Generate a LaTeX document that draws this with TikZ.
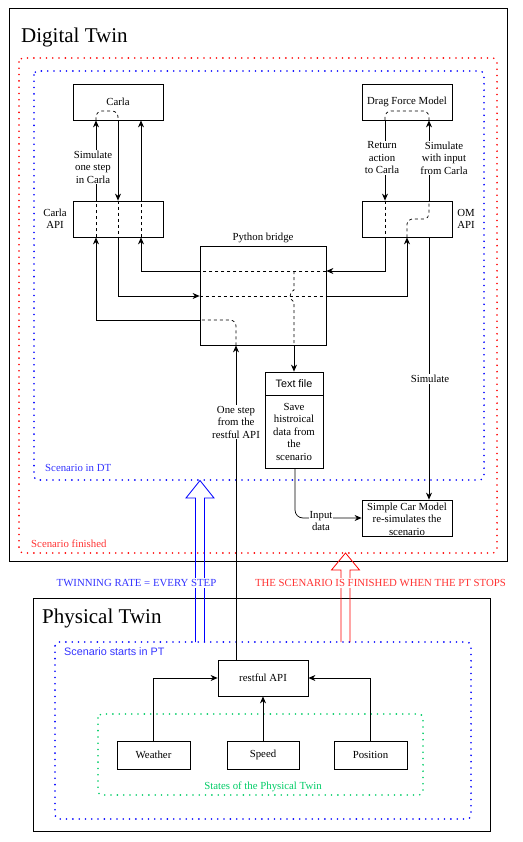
\documentclass[tikz,border=0pt]{standalone}
\usepackage{fontspec}
\setmainfont{Liberation Serif}
\setsansfont{Liberation Sans}
\usetikzlibrary{arrows.meta}
\definecolor{dblue}{RGB}{0,0,255}
\definecolor{lblue}{RGB}{51,51,255}
\definecolor{dred}{RGB}{255,0,0}
\definecolor{lred}{RGB}{255,51,51}
\definecolor{dgreen}{RGB}{0,204,102}
\newcommand{\fsz}{\fontsize{10.8}{12.5}\selectfont}
\tikzset{
  box/.style={draw, line width=0.8pt, inner sep=0pt, minimum width=90pt, minimum height=36pt, font=\fsz, align=center},
  smallbox/.style={box, minimum width=73pt, minimum height=28pt},
  lbl/.style={fill=white, inner sep=1pt, font=\fsz, align=center},
  plain/.style={inner sep=0pt, font=\fsz, align=center},
  arr/.style={-{Stealth[length=7pt,width=6pt]}, line width=0.7pt},
  ln/.style={line width=0.7pt},
  dsh/.style={line width=0.7pt, dash pattern=on 3pt off 3pt},
  dotbox/.style={line width=1.8pt, dash pattern=on 0pt off 6.3pt, line cap=round, rounded corners=4pt},
  hollow/.style={line width=0.8pt},
  title/.style={inner sep=0pt, font=\fontsize{21}{24}\selectfont, anchor=base west}
}
\begin{document}
\begin{tikzpicture}[x=1pt,y=-1pt]
\useasboundingbox (0,0) rectangle (522,842);

% ---------------- Digital Twin frame ----------------
\draw[line width=0.8pt] (9,8) rectangle (507,561);
\node[title] (dttitle) at (21,43) {Digital Twin};
\draw[dotbox, dred] (19,58) rectangle (497,553);
\draw[dotbox, dblue] (34,71) rectangle (484,480);
\node[plain, anchor=west, text=lblue] (scdt) at (45,468) {Scenario in DT};
\node[plain, anchor=west, text=lred] (scfin) at (31,544) {Scenario finished};

% ---------------- Physical Twin frame ----------------
\draw[line width=0.8pt] (33,598) rectangle (490,831);
\node[title] (pttitle) at (42,623) {Physical Twin};
\draw[dotbox, dblue] (55,642) rectangle (471,819);
\draw[dotbox, dgreen] (98,714) rectangle (423,795);
\node[plain, anchor=west, text=lblue, font=\sffamily\fsz] (scpt) at (64,652) {Scenario starts in PT};
\node[plain, text=dgreen] (states) at (263,787) {States of the Physical Twin};

% ---------------- hollow arrows ----------------
\draw[hollow, dblue] (195.5,642) -- (195.5,498) -- (186,498) -- (200,480.5) -- (214,498) -- (204.5,498) -- (204.5,642);
\draw[hollow, dred] (341,642) -- (341,570) -- (331.5,570) -- (345.5,553) -- (359.5,570) -- (350,570) -- (350,642);
\node[lbl, text=lblue] (twin) at (136.5,583) {TWINNING RATE = EVERY STEP};
\node[lbl, text=lred] (fin) at (380.5,583) {THE SCENARIO IS FINISHED WHEN THE PT STOPS};

% ---------------- DT nodes ----------------
\node[box] (carla) at (118,102) {Carla};
\node[box] (drag) at (407,102) {Drag Force Model};
\node[box] (capi) at (118,219) {};
\node[box] (omapi) at (407,219) {};
\node[plain] (capil) at (55,219) {Carla\\API};
\node[plain] (omapil) at (466,219) {OM\\API};
\node[box, minimum width=126pt, minimum height=99pt] (bridge) at (263,295.5) {};
\node[plain] (bridgel) at (263,238) {Python bridge};
\node[box, minimum width=58pt, minimum height=23pt, font=\sffamily\fsz] (tfh) at (294,383.5) {Text file};
\node[box, minimum width=58pt, minimum height=73pt] (tfb) at (294,431.5) {Save\\histroical\\data from\\the\\scenario};
\node[box] (scm) at (407,518) {};
\node[plain] (scml) at (407,519) {Simple Car Model\\re-simulates the\\scenario};

% ---------------- PT nodes ----------------
\node[box] (rest) at (263,678) {restful API};
\node[smallbox] (weather) at (153.5,755) {Weather};
\node[smallbox, minimum width=72pt] (speed) at (263,755) {Speed};
\node[smallbox] (pos) at (370.5,755) {Position};

% ---------------- PT connectors ----------------
\draw[arr] (weather.north) -- (weather.north |- rest.west) -- (rest.west);
\draw[arr] (speed.north) -- (rest.south);
\draw[arr] (pos.north) -- (pos.north |- rest.east) -- (rest.east);

% ---------------- DT connectors ----------------
% restful API -> bridge -> Carla API -> Carla
\draw[arr] ([xshift=-27pt]rest.north) -- ([xshift=-27pt]bridge.south);
\node[lbl] (onestep) at (236,422) {One step\\from the\\restful API};
\draw[dsh, rounded corners=6pt] ([xshift=-27pt]bridge.south) -- (236,320) -- (bridge.west |- 0,320);
\draw[arr] (bridge.west |- 0,320) -- (96,320) -- ([xshift=-22pt]capi.south);
\draw[dsh] ([xshift=-22pt]capi.south) -- ([xshift=-22pt]capi.north);
\draw[arr] ([xshift=-22pt]capi.north) -- ([xshift=-22pt]carla.south);
\node[lbl] (simone) at (93,167) {Simulate\\one step\\in Carla};
\draw[dsh, rounded corners=6pt] ([xshift=-22pt]carla.south) -- (96,111) -- (118,111) -- (carla.south);
\draw[arr] (carla.south) -- (capi.north);
\draw[dsh] (capi.north) -- (capi.south);
\draw[arr] (capi.south) -- (118,296) -- (bridge.west |- 0,296);
\draw[dsh] (bridge.west |- 0,296) -- (bridge.east |- 0,296);
\draw[arr] (bridge.east |- 0,296) -- (407,296) -- (omapi.south);
\draw[dsh, rounded corners=5pt] (omapi.south) -- (407,219) -- (429,219) -- ([xshift=22pt]omapi.north);
\draw[arr] ([xshift=22pt]omapi.north) -- ([xshift=22pt]drag.south);
\node[lbl] (simwith) at (444,158) {Simulate\\with input\\from Carla};
\draw[dsh, rounded corners=6pt] ([xshift=22pt]drag.south) -- (429,111) -- (385,111) -- ([xshift=-22pt]drag.south);
\draw[arr] ([xshift=-22pt]drag.south) -- ([xshift=-22pt]omapi.north);
\node[lbl] (retact) at (382,158) {Return\\action\\to Carla};
\draw[dsh] ([xshift=-22pt]omapi.north) -- ([xshift=-22pt]omapi.south);
\draw[arr] ([xshift=-22pt]omapi.south) -- (385,271) -- (bridge.east |- 0,271);
\draw[dsh] (bridge.east |- 0,271) -- (bridge.west |- 0,271);
\draw[arr] (bridge.west |- 0,271) -- (141,271) -- ([xshift=23pt]capi.south);
\draw[dsh] ([xshift=23pt]capi.south) -- ([xshift=23pt]capi.north);
\draw[arr] ([xshift=23pt]capi.north) -- ([xshift=23pt]carla.south);
% bridge -> text file
\draw[dsh] (294,271) -- (294,290) .. controls (289,291) and (289,300) .. (294,302) -- (bridge.south -| tfh.north);
\draw[arr] (bridge.south -| tfh.north) -- (tfh.north);
% OM API -> Simple Car Model
\draw[arr] ([xshift=22pt]omapi.south) -- (scm.north -| 429,0);
\node[lbl] (simul) at (430,379) {Simulate};
% text file -> Simple Car Model
\draw[arr, rounded corners=8pt] ([xshift=1pt]tfb.south) -- (295,518) -- (scm.west);
\node[lbl, inner sep=0.5pt] (inpd) at (321,521) {Input\\data};
\end{tikzpicture}
\end{document}
